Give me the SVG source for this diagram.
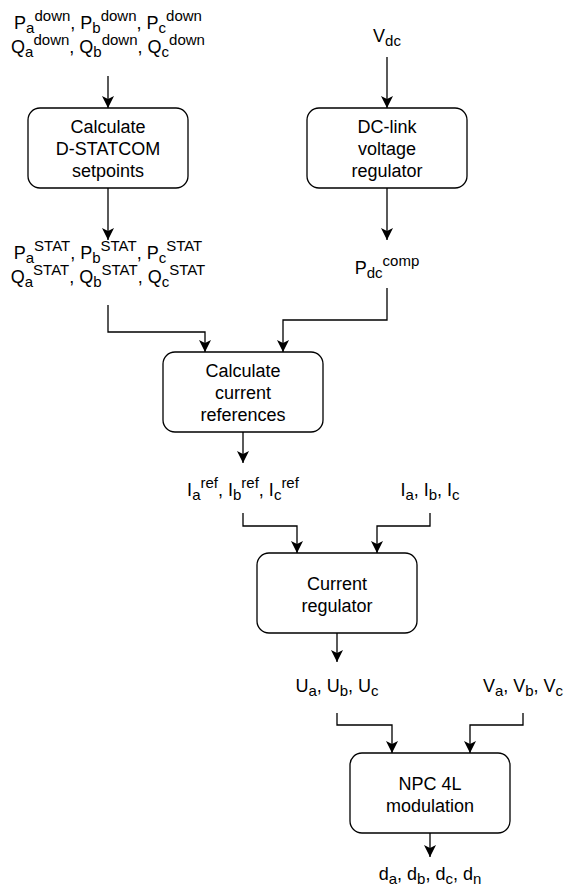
<svg xmlns="http://www.w3.org/2000/svg" width="566" height="888" viewBox="0 0 566 888">
<style>
text{font-family:"Liberation Sans",Arial,Helvetica,sans-serif;font-size:18px;fill:#000;text-anchor:middle}
.s{font-size:15px}
.box{fill:#fff;stroke:#000;stroke-width:1.3}
.c{fill:none;stroke:#000;stroke-width:1.3;marker-end:url(#arr)}
</style>
<defs>
<marker id="arr" markerUnits="userSpaceOnUse" markerWidth="14" markerHeight="12" refX="12" refY="6" orient="auto">
<path d="M0,0 L12,6 L0,12 L3,6 Z" fill="#000"/>
</marker>
</defs>
<rect width="566" height="888" fill="#fff"/>
<g id="connectors">
<path class="c" d="M108,76 V108"/>
<path class="c" d="M387,57 V108"/>
<path class="c" d="M108,188 V240"/>
<path class="c" d="M387,188 V240"/>
<path class="c" d="M108,305 V332 H205 V352"/>
<path class="c" d="M387,288 V320 H283 V352"/>
<path class="c" d="M243,432 V463"/>
<path class="c" d="M243,513 V526 H297 V553"/>
<path class="c" d="M430,513 V526 H377 V553"/>
<path class="c" d="M337,633 V662"/>
<path class="c" d="M337,713 V725 H392 V753"/>
<path class="c" d="M523,713 V725 H470 V753"/>
<path class="c" d="M430,833 V857"/>
</g>
<g id="in-down">
<text x="108" y="29">P<tspan class="s" dy="4">a</tspan><tspan class="s" dy="-12">down</tspan><tspan dy="8">, P</tspan><tspan class="s" dy="4">b</tspan><tspan class="s" dy="-12">down</tspan><tspan dy="8">, P</tspan><tspan class="s" dy="4">c</tspan><tspan class="s" dy="-12">down</tspan></text>
<text x="108" y="53">Q<tspan class="s" dy="4">a</tspan><tspan class="s" dy="-12">down</tspan><tspan dy="8">, Q</tspan><tspan class="s" dy="4">b</tspan><tspan class="s" dy="-12">down</tspan><tspan dy="8">, Q</tspan><tspan class="s" dy="4">c</tspan><tspan class="s" dy="-12">down</tspan></text>
</g>
<g id="in-vdc">
<text x="387" y="42">V<tspan class="s" dy="4">dc</tspan></text>
</g>
<g id="setpoints">
<rect class="box" x="28" y="108" width="160" height="80" rx="12"/>
<text x="108" y="133">Calculate</text>
<text x="108" y="155">D-STATCOM</text>
<text x="108" y="177">setpoints</text>
</g>
<g id="dclink">
<rect class="box" x="307" y="108" width="160" height="80" rx="12"/>
<text x="387" y="133">DC-link</text>
<text x="387" y="155">voltage</text>
<text x="387" y="177">regulator</text>
</g>
<g id="stat">
<text x="108" y="259">P<tspan class="s" dy="4">a</tspan><tspan class="s" dy="-12">STAT</tspan><tspan dy="8">, P</tspan><tspan class="s" dy="4">b</tspan><tspan class="s" dy="-12">STAT</tspan><tspan dy="8">, P</tspan><tspan class="s" dy="4">c</tspan><tspan class="s" dy="-12">STAT</tspan></text>
<text x="108" y="283">Q<tspan class="s" dy="4">a</tspan><tspan class="s" dy="-12">STAT</tspan><tspan dy="8">, Q</tspan><tspan class="s" dy="4">b</tspan><tspan class="s" dy="-12">STAT</tspan><tspan dy="8">, Q</tspan><tspan class="s" dy="4">c</tspan><tspan class="s" dy="-12">STAT</tspan></text>
</g>
<g id="pdc">
<text x="387" y="274">P<tspan class="s" dy="4">dc</tspan><tspan class="s" dy="-12">comp</tspan></text>
</g>
<g id="currefs">
<rect class="box" x="163" y="352" width="160" height="80" rx="12"/>
<text x="243" y="377">Calculate</text>
<text x="243" y="399">current</text>
<text x="243" y="421">references</text>
</g>
<g id="iref">
<text x="243" y="496">I<tspan class="s" dy="4">a</tspan><tspan class="s" dy="-12">ref</tspan><tspan dy="8">, I</tspan><tspan class="s" dy="4">b</tspan><tspan class="s" dy="-12">ref</tspan><tspan dy="8">, I</tspan><tspan class="s" dy="4">c</tspan><tspan class="s" dy="-12">ref</tspan></text>
</g>
<g id="imeas">
<text x="430" y="496">I<tspan class="s" dy="4">a</tspan><tspan dy="-4">, I</tspan><tspan class="s" dy="4">b</tspan><tspan dy="-4">, I</tspan><tspan class="s" dy="4">c</tspan></text>
</g>
<g id="curreg">
<rect class="box" x="257" y="553" width="160" height="80" rx="12"/>
<text x="337" y="590">Current</text>
<text x="337" y="612">regulator</text>
</g>
<g id="uvals">
<text x="337" y="692">U<tspan class="s" dy="4">a</tspan><tspan dy="-4">, U</tspan><tspan class="s" dy="4">b</tspan><tspan dy="-4">, U</tspan><tspan class="s" dy="4">c</tspan></text>
</g>
<g id="vvals">
<text x="523" y="692">V<tspan class="s" dy="4">a</tspan><tspan dy="-4">, V</tspan><tspan class="s" dy="4">b</tspan><tspan dy="-4">, V</tspan><tspan class="s" dy="4">c</tspan></text>
</g>
<g id="npc">
<rect class="box" x="350" y="753" width="160" height="80" rx="12"/>
<text x="430" y="790">NPC 4L</text>
<text x="430" y="812">modulation</text>
</g>
<g id="duty">
<text x="430" y="880">d<tspan class="s" dy="4">a</tspan><tspan dy="-4">, d</tspan><tspan class="s" dy="4">b</tspan><tspan dy="-4">, d</tspan><tspan class="s" dy="4">c</tspan><tspan dy="-4">, d</tspan><tspan class="s" dy="4">n</tspan></text>
</g>
</svg>
